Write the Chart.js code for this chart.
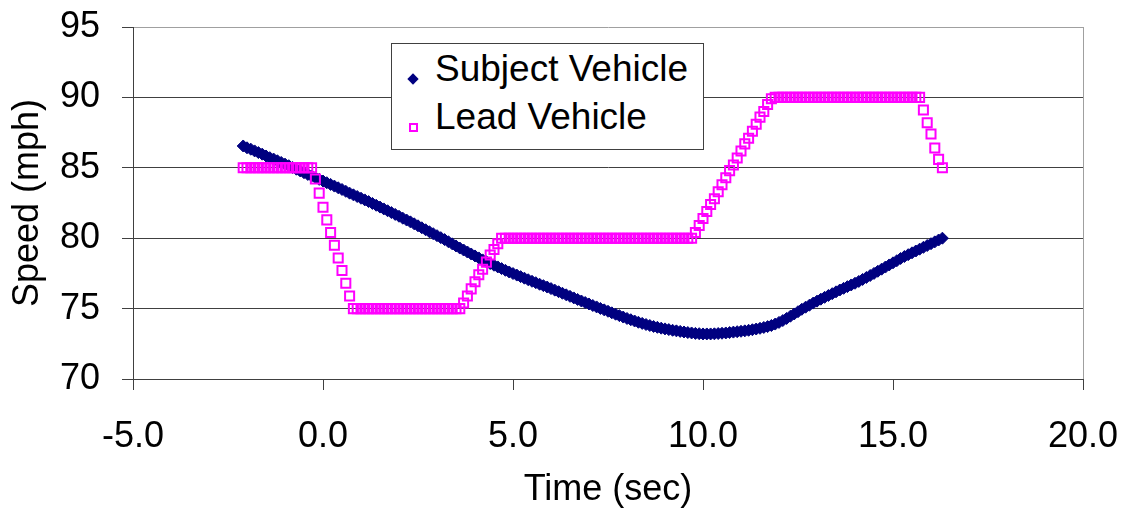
<!DOCTYPE html>
<html>
<head>
<meta charset="utf-8">
<title>Speed (mph) vs Time (sec)</title>
<script src="https://cdn.jsdelivr.net/npm/chart.js@4/dist/chart.umd.min.js"></script>
<style>
    html, body { margin: 0; padding: 0; background: #fff; }
    #wrap { position: relative; width: 1123px; height: 512px; overflow: hidden; }
    #speedChart { position: absolute; left: 0; top: 0; }
    .legend {
        position: absolute; left: 391px; top: 43px; width: 313px; height: 107px;
        background: #fff; border: 1px solid #404040; box-sizing: border-box;
        font-family: "Liberation Sans", Arial, sans-serif; font-size: 37px; color: #000;
    }
    .legend span { position: absolute; left: 43px; line-height: 37px; white-space: nowrap; }
    .mk-diamond { position: absolute; width: 8px; height: 8px; background: #000080; transform: rotate(45deg); }
    .mk-square { position: absolute; width: 9px; height: 9px; border: 2px solid #ff00ff; box-sizing: border-box; }
</style>
</head>
<body>
<div id="wrap">
    <canvas id="speedChart" width="1123" height="512"></canvas>
    <div class="legend">
        <div class="mk-diamond" style="left:17px; top:31px;"></div>
        <span style="top:6px;">Subject Vehicle</span>
        <div class="mk-square" style="left:17px; top:79px;"></div>
        <span style="top:54px;">Lead Vehicle</span>
    </div>
</div>
<script>
'use strict';

/* ---- Data (0.1 s samples) ---- */
var timeSec = [
    -2.1, -2.0, -1.9, -1.8, -1.7, -1.6, -1.5, -1.4, -1.3, -1.2,
    -1.1, -1.0, -0.9, -0.8, -0.7, -0.6, -0.5, -0.4, -0.3, -0.2,
    -0.1, 0.0, 0.1, 0.2, 0.3, 0.4, 0.5, 0.6, 0.7, 0.8,
    0.9, 1.0, 1.1, 1.2, 1.3, 1.4, 1.5, 1.6, 1.7, 1.8,
    1.9, 2.0, 2.1, 2.2, 2.3, 2.4, 2.5, 2.6, 2.7, 2.8,
    2.9, 3.0, 3.1, 3.2, 3.3, 3.4, 3.5, 3.6, 3.7, 3.8,
    3.9, 4.0, 4.1, 4.2, 4.3, 4.4, 4.5, 4.6, 4.7, 4.8,
    4.9, 5.0, 5.1, 5.2, 5.3, 5.4, 5.5, 5.6, 5.7, 5.8,
    5.9, 6.0, 6.1, 6.2, 6.3, 6.4, 6.5, 6.6, 6.7, 6.8,
    6.9, 7.0, 7.1, 7.2, 7.3, 7.4, 7.5, 7.6, 7.7, 7.8,
    7.9, 8.0, 8.1, 8.2, 8.3, 8.4, 8.5, 8.6, 8.7, 8.8,
    8.9, 9.0, 9.1, 9.2, 9.3, 9.4, 9.5, 9.6, 9.7, 9.8,
    9.9, 10.0, 10.1, 10.2, 10.3, 10.4, 10.5, 10.6, 10.7, 10.8,
    10.9, 11.0, 11.1, 11.2, 11.3, 11.4, 11.5, 11.6, 11.7, 11.8,
    11.9, 12.0, 12.1, 12.2, 12.3, 12.4, 12.5, 12.6, 12.7, 12.8,
    12.9, 13.0, 13.1, 13.2, 13.3, 13.4, 13.5, 13.6, 13.7, 13.8,
    13.9, 14.0, 14.1, 14.2, 14.3, 14.4, 14.5, 14.6, 14.7, 14.8,
    14.9, 15.0, 15.1, 15.2, 15.3, 15.4, 15.5, 15.6, 15.7, 15.8,
    15.9, 16.0, 16.1, 16.2, 16.3
];

var subjectMph = [
    86.55, 86.42, 86.32, 86.20, 86.08, 85.97, 85.84, 85.72, 85.62, 85.50,
    85.38, 85.26, 85.15, 85.02, 84.90, 84.78, 84.65, 84.53, 84.42, 84.30,
    84.18, 84.06, 83.94, 83.82, 83.70, 83.58, 83.46, 83.33, 83.20, 83.08,
    82.96, 82.84, 82.72, 82.60, 82.47, 82.34, 82.21, 82.08, 81.95, 81.82,
    81.69, 81.56, 81.42, 81.29, 81.16, 81.02, 80.88, 80.74, 80.60, 80.46,
    80.32, 80.18, 80.04, 79.90, 79.75, 79.60, 79.45, 79.30, 79.16, 79.02,
    78.88, 78.74, 78.60, 78.46, 78.33, 78.20, 78.08, 77.96, 77.84, 77.72,
    77.60, 77.49, 77.38, 77.27, 77.16, 77.05, 76.94, 76.84, 76.73, 76.63,
    76.53, 76.42, 76.31, 76.20, 76.09, 75.98, 75.87, 75.76, 75.65, 75.54,
    75.43, 75.33, 75.22, 75.12, 75.01, 74.91, 74.81, 74.70, 74.60, 74.50,
    74.40, 74.30, 74.21, 74.12, 74.03, 73.95, 73.87, 73.80, 73.73, 73.67,
    73.61, 73.56, 73.51, 73.46, 73.42, 73.38, 73.34, 73.30, 73.27, 73.24,
    73.22, 73.20, 73.20, 73.20, 73.21, 73.23, 73.25, 73.27, 73.30, 73.33,
    73.36, 73.39, 73.42, 73.46, 73.50, 73.55, 73.60, 73.66, 73.72, 73.80,
    73.90, 74.02, 74.15, 74.30, 74.46, 74.62, 74.78, 74.95, 75.10, 75.24,
    75.39, 75.53, 75.67, 75.80, 75.93, 76.06, 76.19, 76.32, 76.44, 76.56,
    76.68, 76.80, 76.93, 77.07, 77.21, 77.35, 77.50, 77.65, 77.80, 77.95,
    78.10, 78.25, 78.40, 78.56, 78.70, 78.83, 78.96, 79.09, 79.22, 79.35,
    79.48, 79.61, 79.74, 79.87, 80.00
];

var leadMph = [
    85, 85, 85, 85, 85, 85, 85, 85, 85, 85,
    85, 85, 85, 85, 85, 85, 85, 85, 85, 84.2,
    83.2, 82.2, 81.3, 80.4, 79.5, 78.6, 77.7, 76.8, 75.9, 75.0,
    75, 75, 75, 75, 75, 75, 75, 75, 75, 75,
    75, 75, 75, 75, 75, 75, 75, 75, 75, 75,
    75, 75, 75, 75, 75, 75, 75, 75, 75.4, 75.9,
    76.4, 76.9, 77.4, 77.8, 78.3, 78.8, 79.2, 79.6, 80, 80,
    80, 80, 80, 80, 80, 80, 80, 80, 80, 80,
    80, 80, 80, 80, 80, 80, 80, 80, 80, 80,
    80, 80, 80, 80, 80, 80, 80, 80, 80, 80,
    80, 80, 80, 80, 80, 80, 80, 80, 80, 80,
    80, 80, 80, 80, 80, 80, 80, 80, 80, 80.4,
    80.9, 81.4, 81.9, 82.4, 82.8, 83.3, 83.8, 84.3, 84.8, 85.2,
    85.7, 86.2, 86.7, 87.1, 87.6, 88.1, 88.6, 89.0, 89.5, 89.9,
    90, 90, 90, 90, 90, 90, 90, 90, 90, 90,
    90, 90, 90, 90, 90, 90, 90, 90, 90, 90,
    90, 90, 90, 90, 90, 90, 90, 90, 90, 90,
    90, 90, 90, 90, 90, 90, 90, 90, 90, 89.1,
    88.2, 87.4, 86.4, 85.6, 85.0
];

var xTicks = [-5, 0, 5, 10, 15, 20];
var yTicks = [70, 75, 80, 85, 90, 95];

/* ---- Styles ---- */
var FONT = 'Liberation Sans, Arial, sans-serif';
var AXIS_COLOR = '#404040';
var FRAME_COLOR = '#a0a0a0';

function toPoints(xs, ys) {
    return xs.map(function(x, i) { return { x: x, y: ys[i] }; });
}

new Chart(document.getElementById('speedChart').getContext('2d'), {
    type: 'scatter',
    data: {
        datasets: [{
            label: 'Subject Vehicle',
            data: toPoints(timeSec, subjectMph),
            pointStyle: 'rectRot', pointRadius: 6, pointHoverRadius: 6,
            backgroundColor: '#000080', borderColor: '#000080', borderWidth: 1,
            order: 2
        }, {
            label: 'Lead Vehicle',
            data: toPoints(timeSec, leadMph),
            pointStyle: 'rect', pointRadius: 6.4, pointHoverRadius: 6.4,
            backgroundColor: 'rgba(0,0,0,0)', borderColor: '#ff00ff', borderWidth: 2,
            order: 1
        }]
    },
    options: {
        responsive: false, animation: false,
        layout: { padding: { top: 27, right: 40, left: 0, bottom: 0 } },
        plugins: { legend: { display: false }, tooltip: { enabled: false } },
        scales: {
            x: {
                type: 'linear', min: xTicks[0], max: xTicks[xTicks.length - 1],
                // fixed axis box; drop the label overflow padding so layout padding rules
                afterFit: function(s) { s.height = 133; s.paddingLeft = 0; s.paddingRight = 0; },
                afterBuildTicks: function(s) { s.ticks = xTicks.map(function(v) { return { value: v }; }); },
                border: { color: AXIS_COLOR, width: 1 },
                grid: {
                    drawOnChartArea: true, tickLength: 11, tickColor: AXIS_COLOR,
                    color: function(c) { return c.tick && c.tick.value === 20 ? FRAME_COLOR : 'rgba(0,0,0,0)'; }
                },
                ticks: {
                    padding: 25, color: '#000', font: { family: FONT, size: 36 }, maxRotation: 0,
                    callback: function(v) { return Number(v).toFixed(1); }
                },
                title: { display: true, text: 'Time (sec)', color: '#000', font: { family: FONT, size: 36 }, padding: { top: 0, bottom: 0 } }
            },
            y: {
                type: 'linear', min: yTicks[0], max: yTicks[yTicks.length - 1],
                afterFit: function(s) { s.width = 133; s.paddingTop = 0; s.paddingBottom = 0; },
                afterBuildTicks: function(s) { s.ticks = yTicks.map(function(v) { return { value: v }; }); },
                border: { color: AXIS_COLOR, width: 1 },
                grid: {
                    tickLength: 11, tickColor: AXIS_COLOR,
                    color: function(c) { return c.tick && c.tick.value === 95 ? FRAME_COLOR : AXIS_COLOR; }
                },
                ticks: { padding: 22, color: '#000', font: { family: FONT, size: 36 } },
                title: { display: true, text: 'Speed (mph)', color: '#000', font: { family: FONT, size: 36 }, padding: { top: 6, bottom: 0 } }
            }
        }
    }
});
</script>
</body>
</html>
